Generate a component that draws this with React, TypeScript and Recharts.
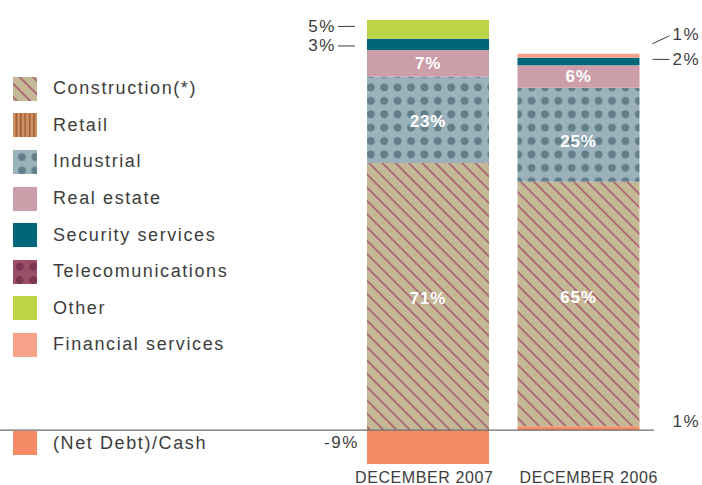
import { BarChart, Bar, XAxis, YAxis, ReferenceLine, LabelList, Legend } from 'recharts'

// share of total, by sector (%)
const categories = ['DECEMBER 2007', 'DECEMBER 2006']
const netDebtCash = [-9, 1]
const construction = [71, 65]
const retail = [0, 0]
const industrial = [23, 25]
const telecom = [0, 0]
const realEstate = [7, 6]
const security = [3, 2]
const other = [5, 0]
const financial = [0, 1]

const FONT = '"Liberation Sans", Arial, Helvetica, sans-serif'
const TEXT = '#3d3d3d'

// stacking order, bottom to top
const series = [
  { key: 'net', name: '(Net Debt)/Cash', fill: '#f68b68', values: netDebtCash },
  { key: 'construction', name: 'Construction(*)', fill: 'url(#pat-construction)', values: construction },
  { key: 'retail', name: 'Retail', fill: 'url(#pat-retail)', values: retail },
  { key: 'industrial', name: 'Industrial', fill: 'url(#pat-industrial)', values: industrial },
  { key: 'telecom', name: 'Telecomunications', fill: 'url(#pat-telecom)', values: telecom },
  { key: 'realEstate', name: 'Real estate', fill: '#cc9ea9', values: realEstate },
  { key: 'security', name: 'Security services', fill: '#00667a', values: security },
  { key: 'other', name: 'Other', fill: '#bcd545', values: other },
  { key: 'financial', name: 'Financial services', fill: '#f6a289', values: financial },
]

const legendOrder = ['construction', 'retail', 'industrial', 'realEstate', 'security', 'telecom', 'other', 'financial']

const data = categories.map((name, i) => {
  const row: Record<string, string | number> = { name }
  series.forEach((s) => (row[s.key] = s.values[i]))
  return row
})

const tickNudge = [-4, 10]

function PatternDefs() {
  return (
    <defs>
      <pattern id="pat-construction" patternUnits="userSpaceOnUse" width="9.4" height="9.4" patternTransform="rotate(-45)">
        <rect width="9.4" height="9.4" fill="#c5b896" />
        <line x1="4.7" y1="0" x2="4.7" y2="9.4" stroke="#9f4f6b" strokeWidth="1.4" />
      </pattern>
      <pattern id="pat-retail" patternUnits="userSpaceOnUse" width="4.4" height="4.4">
        <rect width="4.4" height="4.4" fill="#cf9062" />
        <rect x="2.6" width="1.6" height="4.4" fill="#9c5f38" />
      </pattern>
      <pattern id="pat-industrial" patternUnits="userSpaceOnUse" width="13.4" height="13.4">
        <rect width="13.4" height="13.4" fill="#9cb2bb" />
        <circle cx="9" cy="7" r="4" fill="#617e89" />
      </pattern>
      <pattern id="pat-telecom" patternUnits="userSpaceOnUse" width="13.4" height="13.4">
        <rect width="13.4" height="13.4" fill="#9a4f69" />
        <circle cx="6.7" cy="6.7" r="4" fill="#7c3552" />
      </pattern>
    </defs>
  )
}

function Swatch({ fill }: { fill: string }) {
  return (
    <svg width={24} height={24} style={{ display: 'block', flex: 'none' }}>
      <rect width={24} height={24} fill={fill} />
    </svg>
  )
}

function LegendRow({ k, style }: { k: string; style?: React.CSSProperties }) {
  const s = series.find((x) => x.key === k)!
  return (
    <div style={{ display: 'flex', alignItems: 'center', height: 36.6, ...style }}>
      <Swatch fill={s.fill} />
      <span style={{ marginLeft: 16, fontSize: 18, letterSpacing: 1.6, color: TEXT, whiteSpace: 'nowrap' }}>{s.name}</span>
    </div>
  )
}

function SectorLegend() {
  return (
    <div style={{ paddingTop: 70.5, paddingLeft: 13, fontFamily: FONT }}>
      {legendOrder.map((k) => (
        <LegendRow key={k} k={k} />
      ))}
      <LegendRow k="net" style={{ marginTop: 61.7 }} />
    </div>
  )
}

// white value inside the big segments
function insideLabel(dy: [number, number]) {
  return (props: any) => {
    const vb = props.viewBox || props
    const { x, y, width, height } = vb
    if (!props.value) return null
    const i = props.index === 1 ? 1 : 0
    return (
      <text
        x={x + width / 2}
        y={y + height / 2 + dy[i]}
        textAnchor="middle"
        dominantBaseline="central"
        fill="#fff"
        fontSize={17}
        fontWeight="bold"
        letterSpacing={0.8}
      >
        {props.value}%
      </text>
    )
  }
}

// small value next to the bar: left of first bar, right of second
function sideLabel(opts: { dash?: boolean; slant?: boolean; right?: boolean; dy: [number, number] }) {
  return (props: any) => {
    const vb = props.viewBox || props
    const { x, y, width, height } = vb
    if (!props.value) return null
    const cy = y + height / 2
    const left = !opts.right && props.index === 0
    const ty = cy + opts.dy[left ? 0 : 1]
    const txt = { fontSize: 17, letterSpacing: 1.6, fill: TEXT }
    if (left) {
      return (
        <g>
          {opts.dash && <line x1={x - 29} x2={x - 12} y1={ty} y2={ty} stroke={TEXT} strokeWidth={1} />}
          <text x={x - (opts.dash ? 31 : 8)} y={ty} textAnchor="end" dominantBaseline="central" {...txt}>
            {props.value}%
          </text>
        </g>
      )
    }
    const rx = x + width
    return (
      <g>
        {opts.dash && !opts.slant && <line x1={rx + 13} x2={rx + 30} y1={ty} y2={ty} stroke={TEXT} strokeWidth={1} />}
        {opts.slant && <line x1={rx + 13} x2={rx + 30} y1={ty + 9} y2={ty + 1} stroke={TEXT} strokeWidth={1} />}
        <text x={rx + 33} y={ty} textAnchor="start" dominantBaseline="central" {...txt}>
          {props.value}%
        </text>
      </g>
    )
  }
}

function CategoryTick(props: any) {
  const { x, y, payload, index } = props
  return (
    <text
      x={x + (tickNudge[index] || 0)}
      y={y}
      dy={19}
      textAnchor="middle"
      fontSize={16}
      letterSpacing={0.6}
      fill={TEXT}
    >
      {payload.value}
    </text>
  )
}

export default function App() {
  return (
    <div style={{ position: 'absolute', left: 0, top: 0, width: 702, height: 485, background: '#fff' }}>
      <BarChart
        width={702}
        height={485}
        data={data}
        stackOffset="sign"
        margin={{ top: 20, right: 48, bottom: 0, left: 0 }}
        style={{ fontFamily: FONT }}
      >
        <PatternDefs />
        <XAxis
          dataKey="name"
          padding={{ left: 353, right: 0 }}
          axisLine={false}
          tickLine={false}
          tickSize={0}
          tickMargin={0}
          height={21}
          interval={0}
          tick={<CategoryTick />}
        />
        <YAxis hide type="number" domain={[-9, 109]} allowDataOverflow />
        <Legend
          layout="vertical"
          align="center"
          verticalAlign="middle"
          wrapperStyle={{ left: 0, top: 0, width: 260, height: 485 }}
          content={() => <SectorLegend />}
        />
        {series.map((s) => (
          <Bar key={s.key} dataKey={s.key} name={s.name} stackId="a" fill={s.fill} barSize={122} isAnimationActive={false}>
            {s.key === 'construction' && <LabelList dataKey={s.key} content={insideLabel([2, -7])} />}
            {s.key === 'industrial' && <LabelList dataKey={s.key} content={insideLabel([1.5, 7])} />}
            {s.key === 'realEstate' && <LabelList dataKey={s.key} content={insideLabel([0, 0])} />}
            {(s.key === 'security' || s.key === 'other') && (
              <LabelList dataKey={s.key} content={sideLabel({ dash: true, dy: s.key === 'other' ? [-3, 0] : [1.5, -2] })} />
            )}
            {s.key === 'financial' && (
              <LabelList dataKey={s.key} content={sideLabel({ slant: true, right: true, dy: [0, -21] })} />
            )}
            {s.key === 'net' && <LabelList dataKey={s.key} content={sideLabel({ dy: [-5, -7] })} />}
          </Bar>
        ))}
        <ReferenceLine y={0} stroke="#6b6b6b" strokeWidth={1.2} />
      </BarChart>
    </div>
  )
}
